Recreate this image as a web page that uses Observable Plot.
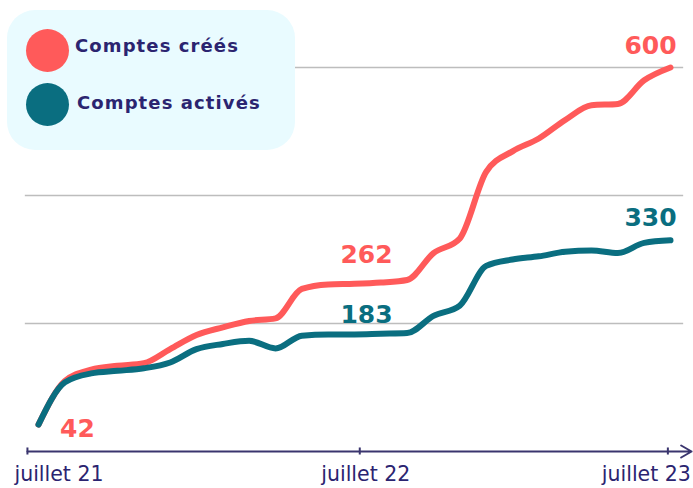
<!DOCTYPE html>
<html><head><meta charset="utf-8">
<script src="https://cdn.jsdelivr.net/npm/d3@7"></script>
<script src="https://cdn.jsdelivr.net/npm/@observablehq/plot@0.6"></script>
<style>
body{margin:0;background:#fff;}
#wrap{position:relative;width:693px;height:488px;}
#legend{position:absolute;left:7px;top:10px;width:288px;height:140px;background:#e9fbff;border-radius:28px;font-family:"DejaVu Sans",sans-serif;font-weight:700;font-size:18px;letter-spacing:1.1px;color:#2b2470;}
.item{position:absolute;left:19px;display:flex;align-items:center;white-space:nowrap;}
.sw{width:43px;height:43px;border-radius:50%;margin-right:6px;}
</style></head>
<body>
<div id="wrap">
  <div id="chart"></div>
  <div id="legend"></div>
</div>
<script>
// months since juillet 21 (0 = juillet 21, 24 = juillet 23)
const months = d3.range(25);
const comptesCrees   = [42,110,128,134,138,160,182,194,204,208,254,261,262,264,268,310,333,437,469,489,518,541,543,580,600];
const comptesActives = [42,108,122,126,130,139,160,168,173,161,181,183,183,184,185,212,228,290,300,305,312,314,310,326,330];
const seriesNames  = ["Comptes créés","Comptes activés"];
const seriesColors = ["#ff5a5a","#0a6e80"];
const tickMonths = [-0.42, 12.2, 23.9];
const tickLabels = ["juillet 21","juillet 22","juillet 23"];
const gridValues = [200, 400, 600];
const valueLabels = [
  {series:"Comptes créés", month:0, value:42},
  {series:"Comptes créés", month:12, value:262},
  {series:"Comptes activés", month:12, value:183},
  {series:"Comptes créés", month:24, value:600},
  {series:"Comptes activés", month:24, value:330}
];

const data = [
  ...months.map((m,i)=>({series:seriesNames[0], month:m, value:comptesCrees[i]})),
  ...months.map((m,i)=>({series:seriesNames[1], month:m, value:comptesActives[i]}))
];
const ticks = tickMonths.map((m,i)=>({month:m, label:tickLabels[i]}));
const navy = "#2b2470";
const colorOf = s => seriesColors[seriesNames.indexOf(s)];
const lblFont = {fontFamily:"DejaVu Sans, sans-serif", fontWeight:700, fontSize:25};
const tickFont = {fill:navy, fontFamily:"DejaVu Sans, sans-serif", fontSize:20.5};

const chart = Plot.plot({
  width:693, height:488,
  marginLeft:38, marginRight:23, marginTop:67, marginBottom:37,
  x:{domain:[0,24], axis:null},
  y:{domain:[0,600], axis:null},
  style:{background:"transparent", overflow:"visible"},
  marks:[
    Plot.ruleY(gridValues, {x1:-0.5, x2:24.5, stroke:"#bdbdbd", strokeWidth:1.3}),
    Plot.arrow([0], {x1:-0.42, x2:24.8, y1:0, y2:0, stroke:"#3a356e", strokeWidth:2, headLength:9, bend:0}),
    Plot.ruleX(ticks, {x:"month", y1:-5.5, y2:5.5, stroke:"#3a356e", strokeWidth:2}),
    Plot.text(ticks.slice(0,1), {x:"month", y:0, text:"label", dy:23, dx:-13, textAnchor:"start", ...tickFont}),
    Plot.text(ticks.slice(1,2), {x:"month", y:0, text:"label", dy:23, dx:6, textAnchor:"middle", ...tickFont}),
    Plot.text(ticks.slice(2,3), {x:"month", y:0, text:"label", dy:23, dx:23, textAnchor:"end", ...tickFont}),
    Plot.line(data.filter(d=>d.series===seriesNames[0]), {x:"month", y:"value", stroke:seriesColors[0], strokeWidth:6, curve:"monotone-x", strokeLinecap:"round", strokeLinejoin:"round"}),
    Plot.line(data.filter(d=>d.series===seriesNames[1]), {x:"month", y:"value", stroke:seriesColors[1], strokeWidth:6, curve:"monotone-x", strokeLinecap:"round", strokeLinejoin:"round"}),
    Plot.text(valueLabels.slice(0,1), {x:"month", y:"value", text:d=>String(d.value), fill:d=>colorOf(d.series), dx:39, dy:4, ...lblFont}),
    Plot.text(valueLabels.slice(1,2), {x:"month", y:"value", text:d=>String(d.value), fill:d=>colorOf(d.series), dx:12, dy:-29, ...lblFont}),
    Plot.text(valueLabels.slice(2,3), {x:"month", y:"value", text:d=>String(d.value), fill:d=>colorOf(d.series), dx:12, dy:-19, ...lblFont}),
    Plot.text(valueLabels.slice(3,5), {x:"month", y:"value", text:d=>String(d.value), fill:d=>colorOf(d.series), dx:-20, dy:-22, ...lblFont})
  ]
});
document.getElementById("chart").appendChild(chart);

const legend = document.getElementById("legend");
seriesNames.forEach((name,i)=>{
  const it = document.createElement("div");
  it.className = "item";
  it.style.top = (i===0 ? 18.5 : 72.5) + "px";
  it.innerHTML = `<div class="sw" style="background:${seriesColors[i]}"></div><span style="margin-left:${i===0?0:2}px;margin-top:${i===0?-10:-4}px">${name}</span>`;
  legend.appendChild(it);
});
</script>
</body></html>
